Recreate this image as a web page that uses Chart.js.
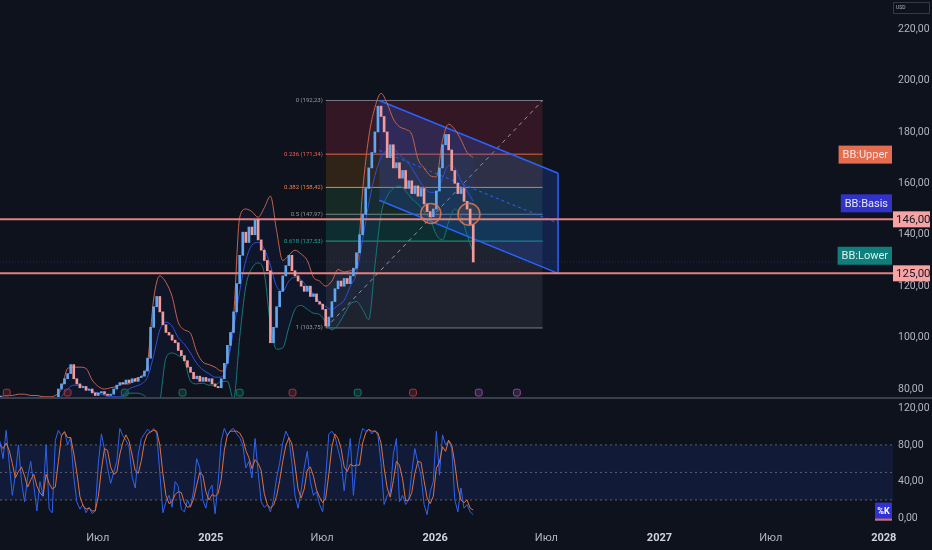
<!DOCTYPE html>
<html>
<head>
<meta charset="utf-8">
<script src="https://cdn.jsdelivr.net/npm/chart.js@4.4.1/dist/chart.umd.min.js"></script>
<style>
  html, body { margin: 0; padding: 0; background: #0e121d; overflow: hidden; }
  #wrap { position: relative; width: 932px; height: 550px; }
  #price { position: absolute; left: 0; top: 0; }
  #sep { position: absolute; left: 0; top: 397px; width: 932px; height: 2px; background: #3b3f4b; }
  #osc { position: absolute; left: 0; top: 399px; }
</style>
</head>
<body>
<div id="wrap">
  <canvas id="price" width="932" height="397"></canvas>
  <div id="sep"></div>
  <canvas id="osc" width="932" height="151"></canvas>
</div>
<script>
// день 0 = 1 января 2025
const firstDay = -343;
const candleStep = 5;
const bbStep = 10;

const closes = [
  75, 76, 75.5, 76.5, 76, 75, 74.5, 75.5, 76, 75.5,
  76.5, 76, 75.5, 75, 74.5, 75, 75.5, 75, 76.5, 80,
  82, 84, 86, 89.5, 84, 82, 80.5, 81, 79.5, 80,
  78.5, 77.5, 78.5, 79, 78, 77.5, 78, 80, 81.5, 82.5,
  82, 83.5, 82.5, 84, 83, 84.5, 85, 87, 92, 104,
  112, 116, 110, 105, 102, 101, 99, 98, 95, 93,
  91, 88.5, 86.5, 84, 85, 83, 84.5, 83, 84, 82,
  81, 80.5, 84, 90, 97, 102, 110, 121, 132, 141,
  137, 143, 140, 146, 138, 134, 130, 126, 98, 104,
  112, 118, 124, 128, 132, 126, 124, 122, 120, 118,
  120, 116, 117, 114, 113, 111, 104.5, 108, 114, 119,
  122, 120, 123, 121, 124, 127, 133, 140, 148, 158,
  166, 172, 180, 190, 186, 180, 170, 175, 166, 168,
  162, 165, 158, 161, 156, 159, 155, 158, 152, 149,
  147, 150, 157, 166, 175, 179, 173, 165, 160, 156,
  158, 153, 150, 144, 129.4
];

const bbUpper = [
  77, 77.5, 77.5, 78, 78, 77.5, 77.5, 77, 77, 77.5,
  80, 88, 88.5, 88.5, 88, 83.5, 81, 80, 80.5, 81,
  82, 82, 84, 85, 90, 115, 124, 121.5, 116, 106,
  103, 101.7, 94.5, 90.5, 89.5, 88.5, 87, 91, 108, 146.8,
  150, 149, 146.8, 150.5, 155, 141.7, 130, 132, 134, 132.5,
  130, 123.5, 122, 120, 122, 126.5, 125.5, 126, 127, 157,
  178, 189.5, 195, 191, 185, 182, 181, 179, 169.5, 166,
  163, 162.5, 176.7, 183, 181, 177, 172, 170
];
const bbBasis = [
  75, 75, 74.5, 74.5, 75, 75, 74.5, 74.5, 74.5, 75,
  77, 80, 81.5, 81.5, 80.5, 79, 78.5, 77.5, 77, 77,
  77.5, 80, 81, 82, 84.6, 93, 103, 106, 104.5, 100,
  97.5, 94, 90, 87.5, 86, 84.6, 84.6, 90, 103, 118,
  130, 136, 137, 134.5, 128, 120, 118, 122, 123.5, 122.5,
  119.6, 117, 114, 112, 111, 112.5, 114.5, 120, 125, 138,
  152, 163, 170, 173, 173.5, 171, 169, 166, 162, 158.5,
  156.5, 156.5, 162, 167, 166, 161, 157, 153
];
const bbLower = [
  71, 71, 70.5, 70.5, 71, 71.5, 71, 71, 71, 71.5,
  70, 68, 69, 70, 72, 73, 74, 74.5, 74.5, 75,
  77, 78.4, 78.4, 78, 76, 69, 75, 92, 94, 93,
  91, 83, 82, 82.3, 81.5, 81.5, 83, 83, 76, 100,
  120, 127, 129, 125, 105, 95.5, 96, 104, 111, 112.5,
  111, 109.5, 109, 106, 103, 105, 109, 113, 114, 111,
  107, 128, 148, 155, 158, 159, 157, 154, 152, 149,
  146, 140, 138, 145, 150, 147, 140, 133
];

const stochK = [
  84, 65, 96, 60, 25, 47, 80, 40, 18, 45,
  62, 36, 8, 40, 25, 80, 10, 6, 85, 96,
  90, 95, 80, 88, 45, 18, 10, 15, 6, 12,
  5, 8, 60, 92, 75, 55, 38, 50, 62, 98,
  90, 85, 78, 45, 33, 70, 87, 92, 97, 94,
  98, 92, 50, 6, 18, 25, 12, 40, 35, 10,
  7, 20, 12, 30, 65, 55, 20, 11, 30, 36,
  5, 40, 85, 98, 90, 96, 98, 92, 88, 80,
  55, 62, 44, 87, 50, 18, 12, 15, 7, 20,
  44, 60, 82, 95, 88, 60, 25, 11, 30, 55,
  73, 40, 25, 29, 15, 7, 45, 92, 95, 90,
  75, 62, 30, 60, 87, 25, 62, 85, 98, 95,
  97, 92, 96, 90, 60, 15, 25, 28, 70, 87,
  18, 25, 15, 20, 50, 76, 60, 47, 15, 4,
  29, 40, 95, 47, 91, 80, 85, 76, 20, 7,
  33, 11, 15, 7, 4
];
const stochD = [
  80, 76, 82, 74, 60, 44, 51, 56, 46, 34,
  42, 48, 35, 28, 24, 48, 38, 32, 34, 62,
  90, 94, 88, 88, 71, 50, 24, 14, 10, 11,
  8, 8, 24, 53, 76, 74, 56, 48, 50, 70,
  83, 91, 84, 69, 52, 49, 63, 83, 92, 94,
  96, 95, 80, 49, 25, 16, 18, 26, 29, 28,
  17, 12, 13, 21, 36, 50, 47, 29, 20, 26,
  24, 27, 43, 74, 91, 95, 95, 95, 93, 87,
  74, 66, 54, 64, 60, 52, 27, 15, 11, 14,
  24, 41, 62, 79, 88, 81, 58, 32, 22, 32,
  53, 56, 46, 31, 23, 17, 22, 48, 78, 92,
  87, 76, 56, 51, 59, 57, 58, 58, 82, 93,
  97, 95, 95, 93, 82, 55, 33, 23, 41, 62,
  58, 43, 19, 20, 28, 49, 62, 61, 41, 22,
  16, 24, 55, 61, 78, 73, 85, 80, 60, 34,
  20, 17, 20, 11, 9
];

const priceTicks = [80, 100, 120, 140, 160, 180, 200, 220];
const oscTicks = [0, 40, 80, 120];
const bandLevels = [80, 50, 20];
const timeTicks = [-184, 0, 181, 365, 546, 730, 911, 1095];
const timeLabels = ['Июл', '2025', 'Июл', '2026', 'Июл', '2027', 'Июл', '2028'];

const hLevels = [146, 125];
const fibRatios = ['0', '0.236', '0.382', '0.5', '0.618', '1'];
const fibPrices = [192.23, 171.34, 158.42, 147.97, 137.53, 103.75];
const fibDays = [187, 540];
const channelDays = [274, 565];
const channelTop = [192.2, 163.9];
const channelMid = [172.8, 144.5];
const channelBottom = [153.4, 125.0];
const circleDays = [358, 420];
const circlePrices = [148.3, 148];
const eventDays = [-332, -233, -140, -46, 47, 133, 239, 329, 436, 498];
const eventKinds = ['r', 'r', 'g', 'g', 'g', 'r', 'g', 'r', 'p', 'p'];

// ---- оформление ----
const FONT = 'Roboto, "Noto Sans", sans-serif';
const X_MIN = firstDay, X_MAX = 1110;
const AXIS_W = 39;
const upColor = '#63a6f0', downColor = '#f19c9c';
const fibLineColors = ['#787b86', '#e5674f', '#e88a4f', '#7d857f', '#1f9c8c', '#787b86'];
const fibLabelColors = ['#9598a1', '#e8614f', '#e8814f', '#8a9a8e', '#22a595', '#9598a1'];
const fibFillColors = [null, 'rgba(242,54,69,0.17)', 'rgba(255,152,0,0.14)', 'rgba(76,175,80,0.15)', 'rgba(8,153,129,0.2)', 'rgba(120,123,134,0.17)'];
const eventColors = { r: '#a8353a', g: '#137a6c', p: '#8a4a9c' };

const fmt = (v) => v.toFixed(2).replace('.', ',');
const candleDay = (i) => firstDay + i * candleStep;
const bbDay = (k) => firstDay + k * bbStep;
const noPadY = (s) => { s.width = AXIS_W; s.paddingTop = 0; s.paddingBottom = 0; };

// ---- основной график ----
const ds = [];
fibPrices.forEach((p, i) => {
  const idx = ds.length;
  ds.push({
    type: 'line', data: fibDays.map((d) => ({ x: d, y: p })),
    borderColor: fibLineColors[i], borderWidth: 1, pointRadius: 0,
    fill: i ? idx - 1 : false, backgroundColor: fibFillColors[i] || 'transparent', order: 100
  });
});
ds.push({
  type: 'line', data: [{ x: fibDays[0], y: fibPrices[5] }, { x: fibDays[1], y: fibPrices[0] }],
  borderColor: '#9598a1', borderWidth: 1, borderDash: [4, 4], pointRadius: 0, fill: false, order: 95
});
const topIdx = ds.length;
ds.push({
  type: 'line', data: channelDays.map((d, i) => ({ x: d, y: channelTop[i] })),
  borderColor: '#2962ff', borderWidth: 1.5, pointRadius: 0, fill: false, order: 90
});
ds.push({
  type: 'line', data: channelDays.map((d, i) => ({ x: d, y: channelBottom[i] })),
  borderColor: '#2962ff', borderWidth: 1.5, pointRadius: 0,
  fill: topIdx, backgroundColor: 'rgba(41,98,255,0.2)', order: 90
});
ds.push({
  type: 'line', data: channelDays.map((d, i) => ({ x: d, y: channelMid[i] })),
  borderColor: '#2962ff', borderWidth: 1, borderDash: [3, 3], pointRadius: 0, fill: false, order: 90
});
ds.push({
  type: 'line', data: [{ x: channelDays[1], y: channelTop[1] }, { x: channelDays[1], y: channelBottom[1] }],
  borderColor: '#2962ff', borderWidth: 1.5, pointRadius: 0, fill: false, order: 90
});
const lowerIdx = ds.length;
ds.push({
  type: 'line', data: bbLower.map((v, k) => ({ x: bbDay(k), y: v })),
  borderColor: '#167a72', borderWidth: 1, pointRadius: 0, cubicInterpolationMode: 'monotone', fill: false, order: 80
});
ds.push({
  type: 'line', data: bbUpper.map((v, k) => ({ x: bbDay(k), y: v })),
  borderColor: '#c8624a', borderWidth: 1, pointRadius: 0, cubicInterpolationMode: 'monotone',
  fill: lowerIdx, backgroundColor: 'rgba(41,98,255,0.06)', order: 80
});
ds.push({
  type: 'line', data: bbBasis.map((v, k) => ({ x: bbDay(k), y: v })),
  borderColor: '#2f4fd8', borderWidth: 1, pointRadius: 0, cubicInterpolationMode: 'monotone', fill: false, order: 75
});
ds.push({
  type: 'line', data: [{ x: X_MIN, y: closes[closes.length - 1] }, { x: X_MAX, y: closes[closes.length - 1] }],
  borderColor: 'rgba(41,98,255,0.35)', borderWidth: 1, borderDash: [1, 2], pointRadius: 0, fill: false, order: 65
});
hLevels.forEach((lv) => {
  ds.push({
    type: 'line', data: [{ x: X_MIN, y: lv }, { x: X_MAX, y: lv }],
    borderColor: '#e58080', borderWidth: 2, pointRadius: 0, fill: false, order: 60
  });
});
ds.push({
  type: 'bar',
  data: closes.map((c, i) => ({ x: candleDay(i), y: [i ? closes[i - 1] : c, c] })),
  backgroundColor: closes.map((c, i) => (c >= (i ? closes[i - 1] : c) ? upColor : downColor)),
  barThickness: 2, minBarLength: 1, grouped: false, order: 10
});
ds.push({
  type: 'line', showLine: false,
  data: circleDays.map((d, i) => ({ x: d, y: circlePrices[i] })),
  pointRadius: [10, 11], pointBorderWidth: 1.5, pointBorderColor: 'rgba(232,120,80,0.85)',
  pointBackgroundColor: 'rgba(232,120,80,0.12)', order: 5
});
ds.push({
  type: 'line', showLine: false,
  data: eventDays.map((d) => ({ x: d, y: 78.6 })),
  pointStyle: 'rectRounded', pointRadius: 4, pointBorderWidth: 1,
  pointBorderColor: eventKinds.map((k) => eventColors[k]),
  pointBackgroundColor: eventKinds.map((k) => eventColors[k] + '44'), order: 4
});

function tagRight(ctx, text, right, cy, bg, fg, font, h) {
  ctx.font = font;
  const w = ctx.measureText(text).width + 8;
  ctx.fillStyle = bg;
  ctx.fillRect(right - w, cy - h / 2, w, h);
  ctx.fillStyle = fg;
  ctx.textAlign = 'left';
  ctx.textBaseline = 'middle';
  ctx.fillText(text, right - w + 4, cy + 0.5);
}

const priceOverlay = {
  id: 'priceOverlay',
  afterDraw(chart) {
    const { ctx, scales: { x, y }, chartArea } = chart;
    ctx.save();
    // подписи уровней Фибоначчи
    ctx.font = '6px ' + FONT;
    ctx.textAlign = 'right';
    ctx.textBaseline = 'middle';
    const fx = x.getPixelForValue(fibDays[0]) - 3;
    fibPrices.forEach((p, i) => {
      ctx.fillStyle = fibLabelColors[i];
      ctx.fillText(fibRatios[i] + ' (' + fmt(p) + ')', fx, y.getPixelForValue(p));
    });
    // метки полос Боллинджера
    const r = chartArea.right - 1;
    const f11 = '11px ' + FONT;
    tagRight(ctx, 'BB:Upper', r, y.getPixelForValue(bbUpper[bbUpper.length - 1]) - 3, '#e46d4f', '#f3e6e2', f11, 18);
    tagRight(ctx, 'BB:Basis', r, y.getPixelForValue(bbBasis[bbBasis.length - 1]) + 2, '#3132c8', '#e6e6f6', f11, 18);
    tagRight(ctx, 'BB:Lower', r, y.getPixelForValue(bbLower[bbLower.length - 1]) + 3, '#0f7f7c', '#dff0ee', f11, 18);
    // метки горизонтальных уровней на шкале
    hLevels.forEach((lv) => {
      const py = y.getPixelForValue(lv);
      ctx.fillStyle = '#f7a3a3';
      ctx.fillRect(chartArea.right, py - 8, 37, 16);
      ctx.fillStyle = '#131722';
      ctx.font = '11.5px ' + FONT;
      ctx.textAlign = 'left';
      ctx.fillText(fmt(lv), chartArea.right + 3, py + 0.5);
    });
    // валюта
    ctx.strokeStyle = '#363a45';
    ctx.lineWidth = 1;
    ctx.strokeRect(chartArea.right + 0.5, 2.5, 36, 11);
    ctx.fillStyle = '#b2b5be';
    ctx.font = '5px ' + FONT;
    ctx.fillText('USD', chartArea.right + 3, 8);
    ctx.restore();
  }
};

new Chart(document.getElementById('price').getContext('2d'), {
  type: 'line',
  data: { datasets: ds },
  options: {
    responsive: false, animation: false, events: [],
    layout: { padding: 0, autoPadding: false },
    plugins: { legend: { display: false }, tooltip: { enabled: false } },
    scales: {
      x: { type: 'linear', display: false, min: X_MIN, max: X_MAX, offset: false },
      y: {
        position: 'right', min: 76.9, max: 231.3,
        grid: { display: false, drawTicks: false }, border: { display: false },
        afterBuildTicks: (s) => { s.ticks = priceTicks.map((v) => ({ value: v })); },
        afterFit: noPadY,
        ticks: { color: '#b2b5be', font: { size: 10.5, family: FONT }, padding: 5, callback: (v) => fmt(v) }
      }
    }
  },
  plugins: [priceOverlay]
});

// ---- Stoch RSI ----
const od = [];
const bandTop = od.length;
bandLevels.forEach((lv, i) => {
  od.push({
    type: 'line', data: [{ x: X_MIN, y: lv }, { x: X_MAX, y: lv }],
    borderColor: '#5d6170', borderWidth: 1, borderDash: [2, 3], pointRadius: 0,
    fill: i === bandLevels.length - 1 ? bandTop : false,
    backgroundColor: 'rgba(41,98,255,0.12)', order: 20
  });
});
od.push({
  type: 'line', data: stochK.map((v, i) => ({ x: candleDay(i), y: v })),
  borderColor: '#2f62f0', borderWidth: 1, pointRadius: 0, fill: false, order: 2
});
od.push({
  type: 'line', data: stochD.map((v, i) => ({ x: candleDay(i), y: v })),
  borderColor: '#e0703c', borderWidth: 1, pointRadius: 0, fill: false, order: 1
});

const oscOverlay = {
  id: 'oscOverlay',
  afterDraw(chart) {
    const { ctx, scales: { y }, chartArea } = chart;
    ctx.save();
    const cy = y.getPixelForValue(stochK[stochK.length - 1]) - 3;
    ctx.fillStyle = '#3132d6';
    ctx.fillRect(chartArea.right - 18, cy - 9, 17, 18);
    ctx.fillStyle = '#e0703c';
    ctx.fillRect(chartArea.right - 18, cy + 7, 17, 2);
    ctx.fillStyle = '#ffffff';
    ctx.font = 'bold 9px ' + FONT;
    ctx.textAlign = 'center';
    ctx.textBaseline = 'middle';
    ctx.fillText('%K', chartArea.right - 9.5, cy);
    ctx.restore();
  }
};

new Chart(document.getElementById('osc').getContext('2d'), {
  type: 'line',
  data: { datasets: od },
  options: {
    responsive: false, animation: false, events: [],
    layout: { padding: { top: 1 }, autoPadding: false },
    plugins: { legend: { display: false }, tooltip: { enabled: false } },
    scales: {
      x: {
        type: 'linear', min: X_MIN, max: X_MAX, offset: false,
        grid: { display: false, drawTicks: false }, border: { display: false },
        afterBuildTicks: (s) => { s.ticks = timeTicks.map((v) => ({ value: v })); },
        afterFit: (s) => { s.height = 22; s.paddingLeft = 0; s.paddingRight = 0; },
        ticks: {
          autoSkip: false, maxRotation: 0, padding: 4,
          color: (c) => (/^\d/.test(timeLabels[c.index]) ? '#d1d4dc' : '#b2b5be'),
          font: (c) => ({ size: 11, family: FONT, weight: /^\d/.test(timeLabels[c.index]) ? 'bold' : 'normal' }),
          callback: (v, i) => timeLabels[i]
        }
      },
      y: {
        position: 'right', min: -10.6, max: 129,
        grid: { display: false, drawTicks: false }, border: { display: false },
        afterBuildTicks: (s) => { s.ticks = oscTicks.map((v) => ({ value: v })); },
        afterFit: noPadY,
        ticks: { color: '#b2b5be', font: { size: 10.5, family: FONT }, padding: 5, callback: (v) => fmt(v) }
      }
    }
  },
  plugins: [oscOverlay]
});
</script>
</body>
</html>
